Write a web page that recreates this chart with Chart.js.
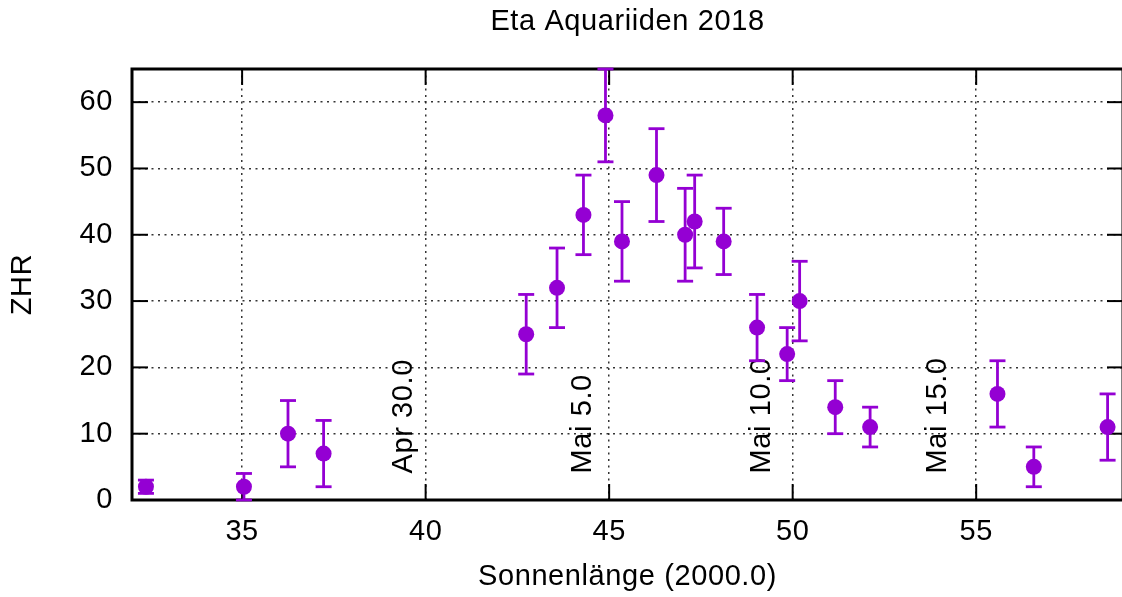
<!DOCTYPE html>
<html>
<head>
<meta charset="utf-8">
<title>Eta Aquariiden 2018</title>
<script src="https://cdn.jsdelivr.net/npm/chart.js@4/dist/chart.umd.min.js"></script>
<style>
  html, body { margin: 0; padding: 0; background: #fff; overflow: hidden; }
  #wrap { width: 1131px; height: 597px; position: relative; }
  canvas { display: block; }
</style>
</head>
<body>
<!-- the frame's right edge sits just past the window edge -->
<div id="wrap"><canvas id="zhr" width="1131" height="597"></canvas></div>
<script>
// Solar longitude (J2000.0, degrees) of each observation interval
const lambda  = [32.38, 35.05, 36.25, 37.22, 42.74, 43.58, 44.30, 44.90, 45.35, 46.29, 47.07,
                 47.33, 48.12, 49.03, 49.85, 50.19, 51.16, 52.11, 55.58, 56.57, 58.58];
// Zenithal hourly rate with lower / upper error limits
const zhr     = [2, 2, 10, 7, 25, 32, 43, 58, 39, 49, 40, 42, 39, 26, 22, 30, 14, 11, 16, 5, 11];
const zhrLow  = [1, 0, 5, 2, 19, 26, 37, 51, 33, 42, 33, 35, 34, 21, 18, 24, 10, 8, 11, 2, 6];
const zhrHigh = [3, 4, 15, 12, 31, 38, 49, 65, 45, 56, 47, 49, 44, 31, 26, 36, 18, 14, 21, 8, 16];

// Axis ticks
const xTicks = [35, 40, 45, 50, 55];
const yTicks = [0, 10, 20, 30, 40, 50, 60];

// Calendar dates marked along the longitude axis
const dateLabels = ['Apr 30.0', 'Mai 5.0', 'Mai 10.0', 'Mai 15.0'];
const dateLambda = [39.64, 44.51, 49.37, 54.19];
const dateZhr = 4;

const FONT = "'Liberation Sans', Arial, Helvetica, sans-serif";
const VIOLET = '#9400D3';
const SPACING = '0.6px';

const textSpacing = {
  id: 'textSpacing',
  beforeUpdate(chart) { chart.ctx.letterSpacing = SPACING; },
  beforeDraw(chart) { chart.ctx.letterSpacing = SPACING; }
};

const frameAndErrors = {
  id: 'frameAndErrors',
  beforeDatasetsDraw(chart) {
    const { ctx, chartArea: a, scales: { x, y } } = chart;
    const tickLen = 16;
    const seg = (x1, y1, x2, y2) => { ctx.beginPath(); ctx.moveTo(x1, y1); ctx.lineTo(x2, y2); ctx.stroke(); };
    ctx.save();
    ctx.letterSpacing = SPACING;

    // inward tick marks on all four sides
    ctx.strokeStyle = '#000';
    ctx.lineWidth = 2;
    xTicks.forEach(v => {
      const px = x.getPixelForValue(v);
      seg(px, a.bottom, px, a.bottom - tickLen);
      seg(px, a.top, px, a.top + tickLen);
    });
    yTicks.forEach(v => {
      const py = y.getPixelForValue(v);
      seg(a.left, py, a.left + tickLen, py);
      seg(a.right, py, a.right - tickLen, py);
    });

    // plot border
    ctx.lineWidth = 3;
    ctx.strokeRect(a.left, a.top, a.right - a.left, a.bottom - a.top);

    // rotated date markers
    ctx.fillStyle = '#000';
    ctx.font = '29px ' + FONT;
    ctx.textAlign = 'left';
    ctx.textBaseline = 'alphabetic';
    dateLabels.forEach((t, i) => {
      ctx.save();
      ctx.translate(x.getPixelForValue(dateLambda[i]), y.getPixelForValue(dateZhr));
      ctx.rotate(-Math.PI / 2);
      ctx.fillText(t, 0, 0);
      ctx.restore();
    });

    // error bars
    ctx.strokeStyle = VIOLET;
    ctx.lineWidth = 2.8;
    const cap = 8;
    lambda.forEach((l, i) => {
      const px = x.getPixelForValue(l);
      const pLo = y.getPixelForValue(zhrLow[i]);
      const pHi = y.getPixelForValue(zhrHigh[i]);
      seg(px, Math.min(pLo, a.bottom), px, Math.max(pHi, a.top));
      if (pLo <= a.bottom + 0.5) seg(px - cap, pLo, px + cap, pLo);
      seg(px - cap, pHi, px + cap, pHi);
    });
    ctx.restore();
  }
};

const gridStyle = { color: 'rgba(30,30,30,0.9)', lineWidth: 1.5, drawTicks: false };
const borderStyle = { display: false, dash: [2, 4.5] };

new Chart(document.getElementById('zhr'), {
  type: 'scatter',
  data: {
    datasets: [{
      label: 'ZHR',
      data: lambda.map((l, i) => ({ x: l, y: zhr[i] })),
      backgroundColor: VIOLET,
      borderColor: VIOLET,
      borderWidth: 0,
      pointRadius: 8,
      pointHoverRadius: 8
    }]
  },
  options: {
    responsive: false,
    animation: false,
    layout: { padding: 0 },
    plugins: {
      legend: { display: false },
      tooltip: { enabled: false },
      title: {
        display: true,
        fullSize: false,
        text: 'Eta Aquariiden 2018',
        color: '#000',
        font: { family: FONT, size: 29, weight: 'normal', lineHeight: 1.2 },
        padding: { top: 5, bottom: 29.2 }
      }
    },
    scales: {
      x: {
        type: 'linear',
        min: 32,
        max: 59,
        afterBuildTicks: s => { s.ticks = xTicks.map(v => ({ value: v })); },
        afterFit: s => { s.height = 97; },
        grid: gridStyle,
        border: borderStyle,
        ticks: {
          color: '#000',
          padding: 15,
          maxRotation: 0,
          font: { family: FONT, size: 29, lineHeight: 1.2 },
          callback: v => String(v)
        },
        title: {
          display: true,
          text: 'Sonnenlänge (2000.0)',
          color: '#000',
          font: { family: FONT, size: 29, lineHeight: 1.2 },
          padding: { top: 0, bottom: 3 }
        }
      },
      y: {
        type: 'linear',
        min: 0,
        max: 65,
        afterBuildTicks: s => { s.ticks = yTicks.map(v => ({ value: v })); },
        afterFit: s => { s.width = 132; },
        grid: gridStyle,
        border: borderStyle,
        ticks: {
          color: '#000',
          padding: 19,
          font: { family: FONT, size: 29, lineHeight: 1.2 },
          callback: v => String(v)
        },
        title: {
          display: true,
          text: 'ZHR',
          color: '#000',
          font: { family: FONT, size: 29, lineHeight: 1.2 },
          padding: { top: 5.6, bottom: 0 }
        }
      }
    }
  },
  plugins: [textSpacing, frameAndErrors]
});
</script>
</body>
</html>
